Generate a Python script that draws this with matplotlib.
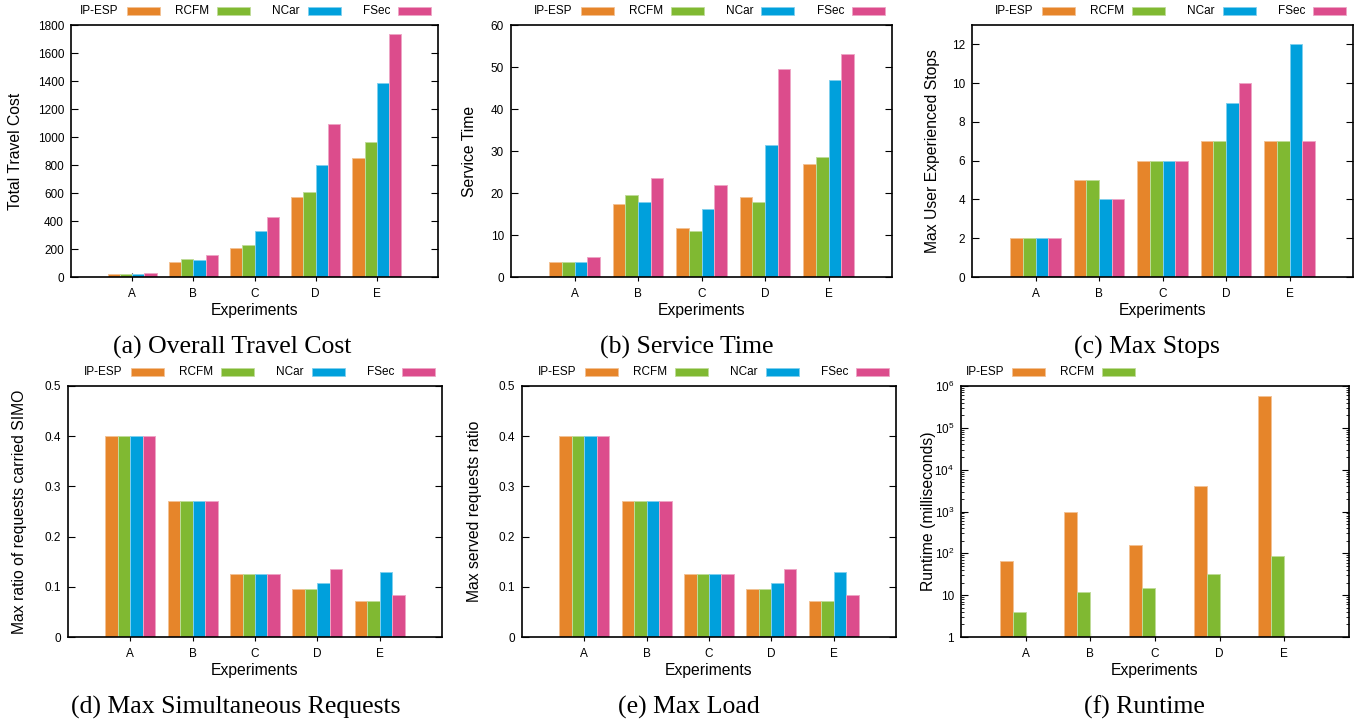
import matplotlib

matplotlib.use("Agg")
import matplotlib.pyplot as plt
import numpy as np
from matplotlib.colors import to_rgb
from matplotlib.patches import Rectangle
from matplotlib.ticker import FixedLocator, FuncFormatter, LogLocator, NullFormatter

W, H = 1366, 723

plt.rcParams["font.family"] = ["Liberation Sans", "DejaVu Sans"]
plt.rcParams["mathtext.fontset"] = "custom"
plt.rcParams["mathtext.rm"] = "Liberation Sans"
plt.rcParams["mathtext.default"] = "regular"

experiments = ["A", "B", "C", "D", "E"]
methods = ["IP-ESP", "RCFM", "NCar", "FSec"]
colors = ["#e6852a", "#80b932", "#00a0dc", "#dc4c8c"]

# one row per method, one column per experiment
travel_cost = [
    [20, 107, 205, 570, 851],
    [20, 126, 226, 606, 961],
    [20, 124, 331, 801, 1388],
    [28, 160, 429, 1094, 1733],
]
service_time = [
    [3.6, 17.4, 11.6, 19.0, 26.8],
    [3.6, 19.5, 11.0, 17.8, 28.5],
    [3.6, 17.8, 16.1, 31.5, 46.8],
    [4.7, 23.6, 21.9, 49.6, 53.2],
]
max_stops = [
    [2, 5, 6, 7, 7],
    [2, 5, 6, 7, 7],
    [2, 4, 6, 9, 12],
    [2, 4, 6, 10, 7],
]
max_simo = [
    [0.4, 0.27, 0.125, 0.095, 0.071],
    [0.4, 0.27, 0.125, 0.095, 0.071],
    [0.4, 0.27, 0.125, 0.108, 0.13],
    [0.4, 0.27, 0.125, 0.135, 0.083],
]
max_load = [
    [0.4, 0.27, 0.125, 0.095, 0.071],
    [0.4, 0.27, 0.125, 0.095, 0.071],
    [0.4, 0.27, 0.125, 0.108, 0.13],
    [0.4, 0.27, 0.125, 0.135, 0.083],
]
runtime = [
    [65, 975, 156, 4140, 569000],
    [4.0, 12, 15, 32, 85],
]


def lighter(c, f=0.5):
    r, g, b = to_rgb(c)
    return (r + (1 - r) * f, g + (1 - g) * f, b + (1 - b) * f)


def px_box(left, top, right, bottom):
    return [left / W, 1 - bottom / H, (right - left) / W, (bottom - top) / H]


panels = [
    dict(data=travel_cost, box=(71, 25, 438, 277), ylabel="Total Travel Cost",
         yl_x=16, ylim=(0, 1800), yticks=np.arange(0, 1801, 200),
         caption="(a) Overall Travel Cost", cap=(232, 347), key=(11, "right")),
    dict(data=service_time, box=(511, 25, 892, 277), ylabel="Service Time",
         yl_x=470, ylim=(0, 60), yticks=np.arange(0, 61, 10),
         caption="(b) Service Time", cap=(687, 347), key=(11, "right")),
    dict(data=max_stops, box=(972, 25, 1353, 277), ylabel="Max User Experienced Stops",
         yl_x=932, ylim=(0, 13), yticks=np.arange(0, 13, 2),
         caption="(c) Max Stops", cap=(1147, 347), key=(11, "right")),
    dict(data=max_simo, box=(68, 386, 442, 637), ylabel="Max ratio of requests carried SIMO",
         yl_x=20, ylim=(0, 0.5), yticks=np.arange(0, 0.51, 0.1),
         caption="(d) Max Simultaneous Requests", cap=(236, 707), key=(372, "right")),
    dict(data=max_load, box=(522, 386, 896, 637), ylabel="Max served requests ratio",
         yl_x=474, ylim=(0, 0.5), yticks=np.arange(0, 0.51, 0.1),
         caption="(e) Max Load", cap=(689, 707), key=(372, "right")),
    dict(data=runtime, box=(961, 386, 1349, 637), ylabel="Runtime (milliseconds)",
         yl_x=928, ylim=(1, 1e6), yticks=None, log=True,
         caption="(f) Runtime", cap=(1144, 707), key=(372, "left")),
]


def draw_key(fig, box, n, key):
    left, top, right, bottom = box
    yc, side = key
    sw, sh = 33, 8
    if side == "right":
        ends = [right - 7 - 90.5 * (3 - i) for i in range(n)]
    else:
        ends = [left + 84 + 90 * i for i in range(n)]
    for i in range(n):
        x1 = ends[i]
        fig.patches.append(Rectangle(((x1 - sw) / W, 1 - (yc + sh / 2) / H), sw / W, sh / H,
                                     transform=fig.transFigure, facecolor=colors[i],
                                     edgecolor=lighter(colors[i]), linewidth=0.6))
        fig.text((x1 - sw - 8) / W, 1 - yc / H, methods[i], ha="right", va="center",
                 fontsize=8.5)


def log_label(v, pos):
    if v < 5:
        return "1"
    if v < 50:
        return "10"
    return "$10^{%d}$" % round(np.log10(v))


fig = plt.figure(figsize=(W / 100, H / 100), dpi=100)
x = np.arange(1, len(experiments) + 1)
bw = 0.2

for p in panels:
    ax = fig.add_axes(px_box(*p["box"]))
    if p.get("log"):
        ax.set_yscale("log")
    for i, vals in enumerate(p["data"]):
        ax.bar(x + (i - 1.5) * bw, vals, width=bw, color=colors[i],
               edgecolor=lighter(colors[i]), linewidth=0.7, zorder=2)
    ax.set_xlim(0, 6)
    ax.set_ylim(*p["ylim"])
    ax.set_xticks(x)
    ax.set_xticklabels(experiments)
    if p.get("log"):
        ax.yaxis.set_major_locator(LogLocator(base=10, numticks=10))
        ax.yaxis.set_minor_locator(LogLocator(base=10, subs=np.arange(2, 10), numticks=20))
        ax.yaxis.set_major_formatter(FuncFormatter(log_label))
        ax.yaxis.set_minor_formatter(NullFormatter())
        ax.tick_params(axis="y", which="minor", direction="in", left=True, right=True,
                       length=2.5, width=0.6)
    else:
        ax.yaxis.set_major_locator(FixedLocator(p["yticks"]))
        ax.yaxis.set_major_formatter(FuncFormatter(lambda v, pos: "%g" % round(v, 6)))
    ax.tick_params(axis="y", which="major", direction="in", left=True, right=True,
                   length=5, width=0.8, labelsize=8.5, pad=5)
    ax.tick_params(axis="x", direction="inout", top=False, length=6, width=0.8,
                   labelsize=8.5, pad=5)
    for s in ax.spines.values():
        s.set_linewidth(1.2)
    left, top, right, bottom = p["box"]
    ax.set_ylabel(p["ylabel"], fontsize=11.3)
    ax.yaxis.label.set_verticalalignment("center")
    ax.yaxis.set_label_coords((p["yl_x"] - left) / (right - left), 0.5)
    ax.set_xlabel("Experiments", fontsize=11.3)
    ax.xaxis.label.set_verticalalignment("center")
    ax.xaxis.set_label_coords(0.5, -(34 / (bottom - top)))
    draw_key(fig, p["box"], len(p["data"]), p["key"])
    fig.text(p["cap"][0] / W, 1 - p["cap"][1] / H, p["caption"], ha="center", va="center",
             family="Liberation Serif", fontsize=18.5)

fig.savefig("out.png", dpi=100)
